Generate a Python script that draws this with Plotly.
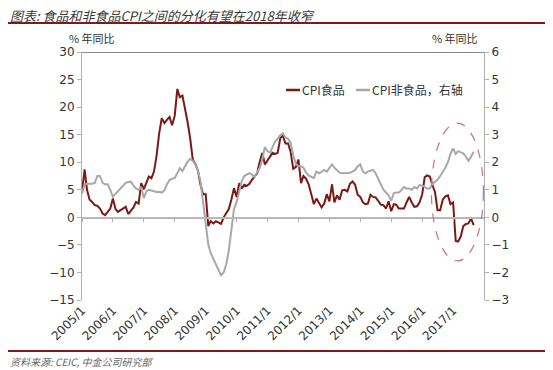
import pandas as pd
import plotly.graph_objects as go

# ---- data ----
food_cpi = [
    4.6, 8.7, 5.0, 3.2, 2.8, 2.2, 2.1, 1.6, 0.7, 0.4, 1.0, 1.6,        # 2005
    3.4, 1.5, 1.0, 1.3, 1.6, 1.9, 0.6, 1.3, 1.8, 2.8, 2.5, 6.2,        # 2006
    5.1, 6.3, 7.4, 7.1, 8.3, 11.2, 15.2, 18.0, 17.1, 17.7, 18.2, 16.7, # 2007
    18.4, 23.3, 21.8, 22.1, 19.9, 17.3, 14.4, 10.5, 9.7, 8.5, 5.9, 4.2, # 2008
    4.2, -1.6, -0.7, -1.1, -0.7, -1.0, -1.2, 0.0, 0.9, 1.5, 3.3, 5.3,  # 2009
    3.7, 6.2, 5.2, 5.9, 5.7, 6.1, 6.8, 7.5, 8.0, 10.1, 11.7, 9.6,      # 2010
    10.3, 11.0, 11.7, 11.5, 11.7, 14.4, 14.8, 13.4, 13.4, 11.9, 8.8, 9.1, # 2011
    10.5, 6.2, 7.5, 7.0, 6.0, 4.2, 2.4, 3.4, 2.5, 1.8, 2.5, 4.2,       # 2012
    2.9, 6.0, 2.7, 4.0, 3.2, 4.9, 5.0, 4.7, 6.1, 6.5, 5.9, 4.1,        # 2013
    3.7, 2.7, 2.4, 2.5, 4.1, 3.7, 3.6, 3.0, 2.3, 2.2, 1.6, 2.9,        # 2014
    1.1, 2.4, 2.3, 1.6, 1.6, 1.6, 2.7, 3.7, 2.7, 1.9, 2.0, 2.7,        # 2015
    4.1, 7.3, 7.6, 7.4, 5.9, 4.6, 1.3, 1.3, 3.2, 3.8, 4.0, 2.4,        # 2016
    2.7, -4.3, -4.4, -3.5, -1.6, -1.2, -1.1, -0.2, -1.4,               # 2017
]
nonfood_cpi = [
    0.85, 1.2, 1.22, 1.22, 1.22, 1.25, 1.5, 1.5, 1.25, 1.2, 1.2, 1.0,        # 2005
    0.75, 0.85, 0.95, 1.05, 1.15, 1.25, 1.28, 1.3, 1.15, 1.05, 1.0, 1.1,     # 2006
    0.7, 0.95, 1.0, 0.97, 0.93, 0.92, 0.93, 0.9, 0.98, 1.2, 1.35, 1.4,       # 2007
    1.42, 1.6, 1.78, 1.68, 1.84, 2.02, 2.12, 2.05, 1.92, 1.7, 1.3, 0.6,      # 2008
    -0.3, -1.0, -1.3, -1.5, -1.7, -1.9, -2.1, -2.0, -1.7, -1.2, -0.4, 0.3,   # 2009
    0.55, 0.9, 1.3, 1.5, 1.55, 1.6, 1.55, 1.45, 1.65, 1.8, 2.1, 2.55,        # 2010
    2.4, 2.35, 2.55, 2.75, 2.85, 2.98, 3.05, 2.9, 2.85, 2.7, 2.25, 1.95,     # 2011
    1.85, 1.85, 1.8, 1.62, 1.52, 1.48, 1.42, 1.66, 1.6, 1.65, 1.72, 1.66,    # 2012
    1.78, 1.92, 1.8, 1.72, 1.62, 1.6, 1.6, 1.6, 1.62, 1.66, 1.72, 1.85,      # 2013
    1.92, 1.66, 1.6, 1.66, 1.7, 1.72, 1.6, 1.4, 1.2, 1.0, 0.9, 0.8,          # 2014
    0.6, 0.88, 0.9, 0.9, 0.98, 1.1, 1.05, 1.05, 1.0, 1.1, 1.05, 1.17,        # 2015
    1.15, 1.1, 1.05, 1.05, 1.2, 1.3, 1.36, 1.5, 1.65, 1.8, 2.0, 2.3,         # 2016
    2.5, 2.3, 2.4, 2.35, 2.32, 2.2, 2.05, 2.2, 2.38,                          # 2017
]
months = pd.date_range("2005-01-01", periods=len(food_cpi), freq="MS")
tick_years = list(range(2005, 2018))
tick_labels = [f"{y}/1" for y in tick_years]
tick_dates = [f"{y}-01-01" for y in tick_years]
series_names = ["CPI食品", "CPI非食品，右轴"]

FOOD_COLOR = "#7a1a14"
NONFOOD_COLOR = "#a8a8a8"
RULE_COLOR = "#7b1c1c"
CJK = "Noto Sans CJK SC, DejaVu Sans, sans-serif"
NUM = "DejaVu Sans, Noto Sans CJK SC, sans-serif"

W, H = 553, 370
OFF = 8  # the page body offsets the figure by 8px; place items in window pixels
def px(x):  # window pixel -> paper x (margins are zero, so paper = whole figure)
    return max(x - OFF, 0) / W
def py(y):
    return 1 - (y - OFF) / H

fig = go.Figure()
fig.add_trace(go.Scatter(x=months, y=food_cpi, name=series_names[0], mode="lines",
                         line=dict(color=FOOD_COLOR, width=2), yaxis="y"))
fig.add_trace(go.Scatter(x=months, y=nonfood_cpi, name=series_names[1], mode="lines",
                         line=dict(color=NONFOOD_COLOR, width=2), yaxis="y2"))
# empty carrier trace so the zero-line x axis is drawn
fig.add_trace(go.Scatter(x=[None], y=[None], xaxis="x2", yaxis="y",
                         showlegend=False, hoverinfo="skip"))

xdom = [px(82), px(484)]
ydom = [py(300), py(52)]
xrange = ["2005-01-01", "2018-01-01"]
fig.update_layout(
    width=W, height=H,
    margin=dict(l=0, r=0, t=0, b=0, autoexpand=False),
    paper_bgcolor="white", plot_bgcolor="rgba(0,0,0,0)",
    font=dict(family=NUM, size=11, color="#333333"),
    showlegend=False,
    xaxis=dict(type="date", range=xrange, domain=xdom, anchor="y",
               tickvals=tick_dates, ticktext=tick_labels, mirror=False,
               tickangle=-45, showgrid=False, showline=False, ticks="",
               zeroline=False, tickfont=dict(family=NUM, size=12, color="#333333")),
    xaxis2=dict(type="date", range=xrange, domain=xdom, overlaying="x",
                anchor="free", position=py(217.5), tickvals=tick_dates,
                showticklabels=False, ticks="outside", ticklen=4,
                tickcolor="#b0b0b0", showline=True, linecolor="#b8b8b8",
                linewidth=1.5, showgrid=False, zeroline=False),
    yaxis=dict(range=[-15, 30], dtick=5, domain=ydom, anchor="x",
               showgrid=False, zeroline=False,
               showline=True, linecolor="#b0b0b0", linewidth=1,
               ticks="outside", ticklen=4, tickcolor="#b0b0b0",
               tickfont=dict(family=NUM, size=12, color="#333333")),
    yaxis2=dict(range=[-3, 6], dtick=1, overlaying="y", side="right", anchor="x",
                showgrid=False, zeroline=False, showline=True,
                linecolor="#b0b0b0", linewidth=1, ticks="outside", ticklen=4,
                tickcolor="#b0b0b0",
                tickfont=dict(family=NUM, size=12, color="#333333")),
)

# frame top line and header/footer rules, drawn as thin filled annotation boxes
def hbar(x0, x1, y, thick, color):
    fig.add_annotation(text=" ", xref="paper", yref="paper",
                       x=px(x0), y=py(y), xanchor="left", yanchor="middle",
                       width=(x1 - x0), height=thick, bgcolor=color,
                       borderpad=0, borderwidth=0, showarrow=False,
                       font=dict(size=1))

hbar(82, 484, 52, 1, "#8a8a8a")
hbar(8, 553, 23, 2, RULE_COLOR)
hbar(8, 553, 351, 2, RULE_COLOR)

# highlight ellipse
fig.add_shape(type="circle", xref="x", yref="y",
              x0="2016-04-20", x1="2017-12-25", y0=-7.9, y1=17.1,
              line=dict(color="#d0707f", width=1.2, dash="dash"))

# legend (compact keys like the reference)
ly = py(90)
fig.add_shape(type="line", xref="paper", yref="paper", x0=px(286), x1=px(300),
              y0=ly, y1=ly, line=dict(color=FOOD_COLOR, width=2.5))
fig.add_annotation(text=series_names[0], xref="paper", yref="paper", x=px(300),
                   y=ly, xanchor="left", yanchor="middle", showarrow=False,
                   font=dict(family=CJK, size=12, color="#333333"))
fig.add_shape(type="line", xref="paper", yref="paper", x0=px(356), x1=px(370),
              y0=ly, y1=ly, line=dict(color=NONFOOD_COLOR, width=2.5))
fig.add_annotation(text=series_names[1], xref="paper", yref="paper", x=px(370),
                   y=ly, xanchor="left", yanchor="middle", showarrow=False,
                   font=dict(family=CJK, size=12, color="#333333"))

fig.add_annotation(text="<i>图表: 食品和非食品CPI之间的分化有望在2018年收窄</i>",
                   xref="paper", yref="paper", x=px(8), y=py(15),
                   xanchor="left", yanchor="middle", showarrow=False,
                   font=dict(family=CJK, size=13, color="#3a3a3a"))
fig.add_annotation(text="<i>资料来源: CEIC, 中金公司研究部</i>",
                   xref="paper", yref="paper", x=px(8), y=py(361),
                   xanchor="left", yanchor="middle", showarrow=False,
                   font=dict(family=CJK, size=10, color="#666666"))
fig.add_annotation(text="% 年同比", xref="paper", yref="paper", x=px(92), y=py(38),
                   xanchor="center", yanchor="middle", showarrow=False,
                   font=dict(family=CJK, size=11, color="#333333"))
fig.add_annotation(text="% 年同比", xref="paper", yref="paper", x=px(455), y=py(38),
                   xanchor="center", yanchor="middle", showarrow=False,
                   font=dict(family=CJK, size=11, color="#333333"))

fig.write_html("out.html", config={"displayModeBar": False})
